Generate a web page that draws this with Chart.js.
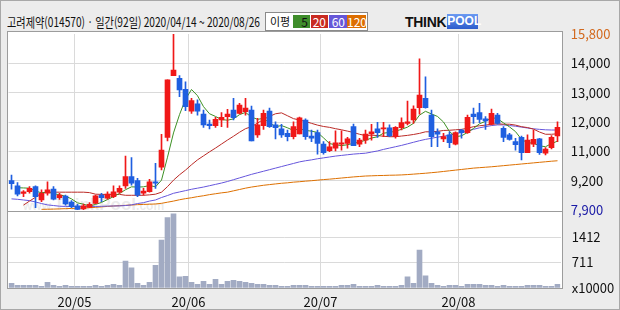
<!DOCTYPE html>
<html>
<head>
<meta charset="utf-8">
<title>고려제약 일간 차트</title>
<script src="https://cdn.jsdelivr.net/npm/chart.js@4.4.1/dist/chart.umd.min.js"></script>
<style>
  html, body { margin: 0; padding: 0; }
  body {
    width: 620px; height: 310px; position: relative; overflow: hidden;
    background: #ececec;
    font-family: "Noto Sans CJK KR", "Noto Sans", sans-serif;
  }
  #frame { position: absolute; left: 0; top: 0; width: 620px; height: 310px; box-sizing: border-box; border: 1px solid #a8a8a8; }
  .panel { position: absolute; left: 7px; width: 556px; box-sizing: border-box; background: #fff; border: 1px solid #9c9c9c; }
  #pricePanel { top: 31px; height: 181px; }
  #volPanel { top: 211px; height: 78px; }
  #title { position: absolute; left: 7px; top: 13px; font-size: 13px; line-height: 17px; color: #111; white-space: nowrap; transform-origin: 0 50%; }
  #legend { position: absolute; left: 265px; top: 12px; width: 103px; height: 19px; box-sizing: border-box; background: #fff; border: 1px solid #8a8a8a; }
  #legend span { position: absolute; top: 2px; height: 13px; font-size: 12px; line-height: 13px; text-align: right; color: #fff; box-sizing: border-box; padding-right: 2px; }
  #legend .lbl { left: 4px; top: 0; height: 17px; line-height: 17px; font-size: 11px; color: #111; text-align: left; padding: 0; }
  #logo { position: absolute; left: 405px; top: 13px; height: 17px; white-space: nowrap; font-family: "Liberation Sans", Arial, sans-serif; font-weight: bold; }
  #logo .think { font-size: 14px; line-height: 17px; color: #111; letter-spacing: -0.3px; }
  #logo .pool { display: inline-block; margin-left: 1px; width: 31px; height: 15px; line-height: 15px; font-size: 12px; text-align: center; color: #fff; background: linear-gradient(#6b9af2, #2c5ccc); vertical-align: top; margin-top: 1px; }
  #watermark { position: absolute; left: 23px; top: 195px; white-space: nowrap; color: rgba(150,150,150,0.2); font-family: "Liberation Sans", Arial, sans-serif; font-weight: bold; }
  #watermark .big { font-size: 17px; }
  #watermark .small { font-size: 12px; }
  canvas { position: absolute; left: 0; }
  #price { top: 0; }
  #volume { top: 193px; }
</style>
</head>
<body>
<div id="frame"></div>
<div id="title">고려제약(014570) · 일간(92일) 2020/04/14 ~ 2020/08/26</div>
<div id="legend">
  <span class="lbl">이평</span>
  <span style="left:27px;width:17px;background:#3f8d2b;color:#111">5</span>
  <span style="left:45px;width:17px;background:#c92b22">20</span>
  <span style="left:63px;width:18px;background:#6657d8">60</span>
  <span style="left:81px;width:19px;background:#dd6e00">120</span>
</div>
<div id="logo"><span class="think">THINK</span><span class="pool">POOL</span></div>
<div class="panel" id="pricePanel"></div>
<div class="panel" id="volPanel"></div>
<div id="watermark"><span class="small">www.</span><span class="big">ThinkPool</span><span class="small">.com</span></div>
<canvas id="price" width="620" height="228"></canvas>
<canvas id="volume" width="620" height="117"></canvas>
<script>
// month boundaries (index of first trading day) and their labels
const monthStarts = [11, 30, 52, 75];
const monthLabels = ['20/05', '20/06', '20/07', '20/08'];

// price axis labels, bottom to top (evenly spaced between min and max)
const priceMin = 7900;
const priceMax = 15800;
const priceTickLabels = ['7,900', '9,200', '11,000', '12,000', '13,000', '14,000', '15,800'];

// volume axis (x10000)
const volMax = 2118;
const volTickValues = [0, 711, 1412];
const volTickLabels = ['x10000', '711', '1412'];

// daily candles, 2020/04/14 ~ 2020/08/26
const opens = [
  9220, 8980, 8640, 8720, 8950, 8350, 8650, 8840, 8450, 8530,
  8250, 8090, 7950, 8020, 8200, 8570, 8430, 8500, 8700, 8980,
  9400, 9220, 8650, 8720, 9170, 9820, 11160, 13930, 13810, 13320,
  12340, 12660, 12210, 11760, 11680, 11940, 12090, 12390, 12240, 12310,
  12390, 11270, 11680, 12340, 11720, 11540, 11340, 11190, 11310, 11940,
  11220, 11370, 10860, 10560, 10680, 10860, 10890, 11640, 10850, 11040,
  11310, 11540, 11540, 11590, 11190, 11590, 11790, 11940, 12490, 12910,
  12160, 11410, 11090, 11270, 10850, 11490, 11370, 12200, 12270, 11990,
  11750, 12160, 11570, 11270, 10970, 11160, 10470, 10850, 11090, 10450,
  10700, 11220
];
const highs = [
  9470, 9130, 8770, 8950, 8980, 8800, 9170, 8950, 8650, 8570,
  8320, 8160, 8170, 8230, 8570, 8650, 8720, 8980, 8980, 10320,
  10250, 9320, 8870, 9280, 10000, 11300, 13740, 15800, 13930, 13650,
  12910, 12840, 12390, 11940, 12060, 12270, 12420, 12910, 12690, 12910,
  12570, 12020, 12390, 12470, 11860, 11750, 11490, 11860, 12070, 11990,
  11490, 11490, 10970, 10970, 11450, 11450, 11160, 11760, 11120, 11490,
  11750, 11840, 11840, 11720, 11640, 12040, 12790, 12580, 14680, 13880,
  12390, 11540, 11340, 11410, 11410, 11520, 12160, 12470, 12690, 12090,
  12430, 12240, 11640, 11340, 11120, 11220, 11270, 11490, 11120, 10700,
  11240, 11860
];
const lows = [
  8830, 8530, 8500, 8650, 8000, 8270, 8570, 8350, 8380, 8120,
  8000, 7900, 7910, 8000, 8180, 8270, 8390, 8450, 8650, 8870,
  9020, 8500, 8570, 8700, 8870, 9700, 11000, 13930, 12990, 12360,
  12240, 12160, 11610, 11540, 11610, 11640, 11610, 11940, 12210, 12160,
  11000, 11160, 11520, 11610, 11090, 11160, 11000, 11090, 11310, 11070,
  10970, 10410, 10410, 10520, 10550, 10590, 10680, 10790, 10740, 10890,
  11040, 11160, 11190, 11190, 11120, 11490, 11720, 11790, 12200, 12470,
  10740, 10740, 10970, 10700, 10820, 11120, 11340, 11790, 11820, 11520,
  11720, 11750, 10970, 11040, 10580, 10150, 10470, 10740, 10400, 10370,
  10640, 10970
];
const closes = [
  9080, 8610, 8710, 8870, 8500, 8650, 8800, 8390, 8570, 8170,
  8050, 7930, 8090, 8160, 8540, 8450, 8620, 8720, 8870, 9400,
  9100, 8570, 8750, 9170, 9100, 10590, 13740, 14180, 13290, 12540,
  12810, 12340, 11720, 11680, 11970, 12060, 12210, 12040, 12610, 12470,
  11000, 11720, 12240, 11640, 11590, 11270, 11190, 11640, 12040, 11190,
  11120, 10890, 10470, 10740, 10910, 10920, 11090, 10790, 11040, 11310,
  11410, 11370, 11590, 11220, 11610, 11820, 11860, 12430, 13060, 12490,
  11190, 11300, 11190, 10920, 11370, 11370, 12060, 12090, 11970, 11900,
  12240, 11790, 11160, 11070, 10830, 10470, 11040, 11070, 10470, 10640,
  11160, 11610
];
const volumes = [
  131, 76, 76, 76, 76, 48, 160, 76, 48, 76,
  48, 48, 48, 48, 76, 48, 76, 104, 76, 748,
  560, 131, 76, 160, 635, 1336, 1960, 2064, 308, 327,
  160, 104, 188, 104, 244, 104, 188, 216, 188, 160,
  131, 104, 104, 76, 76, 48, 48, 76, 76, 76,
  48, 48, 48, 48, 48, 76, 76, 104, 48, 48,
  48, 76, 48, 48, 48, 76, 308, 131, 1056, 336,
  131, 76, 48, 76, 76, 48, 104, 104, 104, 76,
  76, 48, 76, 48, 48, 48, 76, 76, 76, 48,
  48, 104
];

// moving averages as drawn (5 / 20 / 60 / 120 days)
const ma5 = [
  null, 8900, 8890, 8880, 8750, 8670, 8710, 8640, 8580, 8520,
  8400, 8220, 8160, 8080, 8150, 8240, 8370, 8500, 8640, 8810,
  8940, 8930, 8940, 9000, 8940, 9240, 10270, 11360, 12180, 12870,
  13310, 13030, 12540, 12220, 12100, 11960, 11930, 11990, 12180, 12280,
  12070, 11970, 12010, 11810, 11640, 11690, 11590, 11470, 11550, 11470,
  11440, 11380, 11140, 10880, 10830, 10790, 10830, 10890, 10950, 11030,
  11130, 11190, 11350, 11380, 11440, 11520, 11620, 11790, 12160, 12330,
  12210, 12100, 11850, 11420, 11190, 11230, 11380, 11560, 11770, 11880,
  12050, 12000, 11810, 11630, 11420, 11070, 10920, 10900, 10780, 10740,
  10880, 10990
];
const ma20 = [
  null, null, 8120, 8300, 8470, 8660, 8700, 8700, 8700, 8700,
  8700, 8700, 8700, 8680, 8610, 8600, 8600, 8600, 8600, 8560,
  8560, 8560, 8560, 8580, 8610, 8700, 8950, 9240, 9480, 9690,
  9930, 10150, 10330, 10510, 10680, 10860, 11040, 11210, 11390, 11550,
  11640, 11800, 11970, 12100, 12220, 12260, 12130, 12000, 11940, 11870,
  11790, 11710, 11650, 11610, 11550, 11500, 11440, 11380, 11300, 11240,
  11260, 11240, 11210, 11190, 11190, 11220, 11250, 11290, 11340, 11410,
  11410, 11430, 11470, 11480, 11500, 11520, 11570, 11640, 11680, 11710,
  11750, 11770, 11750, 11750, 11710, 11640, 11600, 11530, 11400, 11300,
  11300, 11320
];
const ma60 = [
  8400, 8380, 8350, 8320, 8260, 8190, 8130, 8100, 8070, 8060,
  8060, 8055, 8055, 8060, 8060, 8065, 8075, 8080, 8085, 8100,
  8130, 8190, 8230, 8300, 8350, 8460, 8550, 8650, 8710, 8770,
  8830, 8880, 8930, 8990, 9050, 9110, 9180, 9260, 9340, 9420,
  9500, 9570, 9640, 9710, 9780, 9850, 9920, 9990, 10060, 10110,
  10150, 10200, 10240, 10280, 10320, 10350, 10380, 10410, 10430, 10450,
  10500, 10550, 10620, 10680, 10740, 10800, 10870, 10940, 11010, 11070,
  11120, 11170, 11210, 11260, 11320, 11380, 11450, 11520, 11590, 11640,
  11690, 11720, 11720, 11690, 11660, 11620, 11580, 11545, 11520, 11500,
  11490, 11490
];
const ma120 = [
  null, null, null, null, null, 7930, 7935, 7940, 7950, 7960,
  7970, 7980, 7990, 8000, 8020, 8040, 8060, 8080, 8095, 8110,
  8125, 8140, 8150, 8160, 8170, 8200, 8250, 8300, 8360, 8410,
  8450, 8500, 8540, 8590, 8630, 8670, 8700, 8760, 8820, 8880,
  8930, 8970, 9010, 9040, 9070, 9100, 9120, 9150, 9170, 9195,
  9215, 9240, 9265, 9285, 9310, 9335, 9360, 9385, 9405, 9425,
  9435, 9445, 9450, 9460, 9465, 9475, 9490, 9510, 9530, 9550,
  9575, 9600, 9630, 9660, 9690, 9720, 9750, 9780, 9800, 9820,
  9840, 9865, 9890, 9915, 9940, 9965, 9990, 10015, 10040, 10065,
  10090, 10110
];

const UP = '#f01818';
const DOWN = '#1f5fe0';
const GRID = '#dadada';

Chart.defaults.font.family = '"Noto Sans CJK KR", "Noto Sans", sans-serif';
Chart.defaults.font.size = 13;
Chart.defaults.color = '#111';

// squeeze the title to the width it has in the picture
const title = document.getElementById('title');
title.style.transform = 'scaleX(' + (253 / title.offsetWidth) + ')';

const idx = closes.map((c, i) => i);
const candleColor = ctx => closes[ctx.dataIndex] >= opens[ctx.dataIndex] ? UP : DOWN;

function maLine(values, color, order) {
    return {
        type: 'line',
        data: idx.map(i => ({x: i, y: values[i]})),
        borderColor: color,
        borderWidth: 1,
        pointRadius: 0,
        tension: 0,
        order: order
    };
}

// shared x axis: one unit per trading day, grid lines on month starts
function dayAxis(showLabels) {
    return {
        type: 'linear',
        min: -0.5,
        max: 91.5,
        offset: false,
        afterBuildTicks: axis => {
            axis.ticks = monthStarts.map(i => ({value: i - 0.5}));
        },
        afterFit: axis => { axis.height = showLabels ? 22 : 0; },
        ticks: {
            display: showLabels,
            autoSkip: false,
            maxRotation: 0,
            padding: 6,
            callback: (value, index) => monthLabels[index]
        },
        grid: {color: GRID, drawTicks: false, offset: false},
        border: {display: false}
    };
}

// Price chart (the y tick padding also pads the plot bottom: 7.8 + 10.2 = 18px)
const priceChart = new Chart(document.getElementById('price'), {
    type: 'bar',
    data: {
        datasets: [
            maLine(ma120, '#dd7000', 5),
            maLine(ma60, '#6656dc', 4),
            maLine(ma20, '#bb2a26', 3),
            maLine(ma5, '#3d9024', 2),
            {
                type: 'bar',
                data: idx.map(i => ({x: i, y: [lows[i], highs[i]]})),
                backgroundColor: candleColor,
                barThickness: 1,
                grouped: false,
                order: 1
            },
            {
                type: 'bar',
                data: idx.map(i => ({x: i, y: [Math.min(opens[i], closes[i]), Math.max(opens[i], closes[i])]})),
                backgroundColor: candleColor,
                barThickness: 5,
                minBarLength: 1,
                grouped: false,
                order: 0
            }
        ]
    },
    options: {
        responsive: false,
        animation: false,
        devicePixelRatio: 1,
        layout: {padding: {left: 8.5, top: 34, right: 0, bottom: 2}},
        plugins: {legend: {display: false}, tooltip: {enabled: false}},
        scales: {
            x: dayAxis(false),
            y: {
                position: 'right',
                min: priceMin,
                max: priceMax,
                afterBuildTicks: axis => {
                    axis.ticks = priceTickLabels.map((t, k) => ({value: priceMin + k * (priceMax - priceMin) / 6}));
                },
                afterFit: axis => { axis.width = 59.5; },
                ticks: {
                    padding: 10.2,
                    color: ctx => ctx.index === 6 ? '#d2691e' : (ctx.index === 0 ? '#1a1aa6' : '#111'),
                    callback: (value, index) => priceTickLabels[index]
                },
                grid: {
                    drawTicks: false,
                    color: ctx => (ctx.index === 0 || ctx.index === 6) ? 'transparent' : GRID
                },
                border: {display: false}
            }
        }
    }
});

// Volume chart (plot top = 7.8 + 11.2 = 19px into the canvas)
const volumeChart = new Chart(document.getElementById('volume'), {
    type: 'bar',
    data: {
        datasets: [{
            data: idx.map(i => ({x: i, y: volumes[i]})),
            backgroundColor: '#a2abc3',
            barThickness: 5,
            grouped: false
        }]
    },
    options: {
        responsive: false,
        animation: false,
        devicePixelRatio: 1,
        layout: {padding: {left: 8.5, top: 12, right: 0, bottom: 0}},
        plugins: {legend: {display: false}, tooltip: {enabled: false}},
        scales: {
            x: dayAxis(true),
            y: {
                position: 'right',
                min: 0,
                max: volMax,
                afterBuildTicks: axis => {
                    axis.ticks = volTickValues.map(v => ({value: v}));
                },
                afterFit: axis => { axis.width = 59.5; },
                ticks: {
                    padding: 11.2,
                    callback: (value, index) => volTickLabels[index]
                },
                grid: {
                    drawTicks: false,
                    color: ctx => ctx.index === 0 ? 'transparent' : GRID
                },
                border: {display: false}
            }
        }
    }
});
</script>
</body>
</html>
